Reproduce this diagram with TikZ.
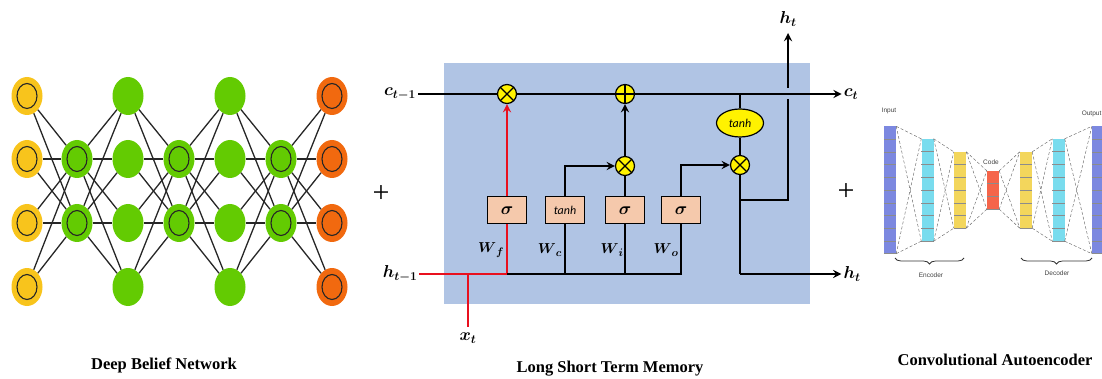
\documentclass[tikz,border=0pt]{standalone}
\usepackage{amsmath}
\usepackage{fontspec}
\setmainfont{Liberation Serif}
\newfontfamily\tanhfont{Carlito}
\newfontfamily\aefont{Liberation Sans}
\usetikzlibrary{arrows,positioning,calc,shapes.geometric,decorations.pathreplacing}
\definecolor{dbnyellow}{HTML}{F8C41C}
\definecolor{dbngreen}{HTML}{63CB02}
\definecolor{dbnorange}{HTML}{F1690F}
\definecolor{lstmblue}{HTML}{B0C4E4}
\definecolor{lstmbox}{HTML}{F5C9AC}
\definecolor{lstmred}{HTML}{E9101E}
\definecolor{aeblue}{HTML}{7C88E0}
\definecolor{aecyan}{HTML}{79DCEE}
\definecolor{aeyellow}{HTML}{F3D65C}
\definecolor{aered}{HTML}{F5654A}
\tikzset{
    vertex/.style={ellipse,minimum width=31pt,minimum height=38pt,inner sep=0pt},
    ringed/.style={path picture={\draw[line width=1.1pt,black!85] (path picture bounding box.center) ellipse (10pt and 12.5pt);}},
    link/.style={-,line width=1.3pt,black!85},
    pre/.style={->,line width=2.6pt,>=stealth},
    bi/.style={-,line width=2.6pt},
    mult/.style={circle,draw,fill=yellow,minimum size=19pt,inner sep=0pt,line width=1.2pt,
        path picture={\draw[line width=1.2pt] (path picture bounding box.north west) -- (path picture bounding box.south east) (path picture bounding box.north east) -- (path picture bounding box.south west);}},
    add/.style={circle,draw,fill=yellow,minimum size=19pt,inner sep=0pt,line width=1.2pt,
        path picture={\draw[line width=1.2pt] (path picture bounding box.north) -- (path picture bounding box.south) (path picture bounding box.east) -- (path picture bounding box.west);}},
    gate/.style={rectangle,draw,fill=lstmbox,minimum width=39pt,minimum height=27pt,inner sep=0pt,line width=1pt,font=\fontsize{18}{20}\selectfont},
    sym/.style={font=\fontsize{18}{20}\selectfont,inner sep=2pt},
    wsym/.style={font=\fontsize{15}{18}\selectfont,inner sep=0pt},
    title/.style={font=\fontsize{16.5}{19}\selectfont\bfseries},
    plus/.style={font=\fontsize{30}{32}\selectfont,inner sep=0pt},
    bar/.style={rectangle,minimum width=12pt,inner sep=0pt},
    aelink/.style={-,line width=.45pt,black!60,densely dashed},
    aetext/.style={font=\fontsize{6.5}{8}\selectfont\aefont,black!75,inner sep=0pt}
}
\newcommand{\lstmsym}[2]{$\boldsymbol{#1}_{\boldsymbol{#2}}$}
\begin{document}
\begin{tikzpicture}[x=1pt,y=-1pt]
    \useasboundingbox (0,0) rectangle (1102,379);

    % deep belief network
    \foreach \r/\y in {1/96,2/159,3/223,4/287} {
        \node[vertex,ringed,fill=dbnyellow] (dbn 1-\r) at (27,\y)  {};
        \node[vertex,fill=dbngreen]         (dbn 3-\r) at (128,\y) {};
        \node[vertex,fill=dbngreen]         (dbn 5-\r) at (230,\y) {};
        \node[vertex,ringed,fill=dbnorange] (dbn 7-\r) at (332,\y) {};
    }
    \foreach \c/\x in {2/77,4/179,6/281} {
        \node[vertex,ringed,fill=dbngreen] (dbn \c-2) at (\x,159) {};
        \node[vertex,ringed,fill=dbngreen] (dbn \c-3) at (\x,223) {};
    }
    \foreach \a/\b in {2/1,2/3,4/3,4/5,6/5,6/7}
        \foreach \s in {2,3}
            \foreach \r in {1,2,3,4}
                \draw[link] (dbn \a-\s) -- (dbn \b-\r);

    \node[title] (dbn title) at (164,365) {Deep Belief Network};
    \node[plus] (plus a) at (381,194) {+};
    \node[plus] (plus b) at (846,192) {+};

    % long short term memory
    \fill[lstmblue] (444,63) rectangle (810,304);

    \node[gate] (sigma f) at (507,210.5) {$\boldsymbol{\sigma}$};
    \node[gate] (tanh c) [on grid,right=58pt of sigma f] {\fontsize{12}{14}\selectfont\tanhfont\itshape tanh};
    \node[gate] (sigma i) [on grid,right=60pt of tanh c] {$\boldsymbol{\sigma}$};
    \node[gate] (sigma o) [on grid,right=56pt of sigma i] {$\boldsymbol{\sigma}$};

    \node[mult] (mult f) at (507,94)  {};
    \node[add]  (add i)  at (625,94)  {};
    \node[mult] (mult i) at (625,166) {};
    \node[mult] (mult o) at (740,165) {};
    \node[ellipse,draw,fill=yellow,minimum width=47pt,minimum height=28pt,inner sep=0pt,line width=1.2pt,
        font=\fontsize{12}{14}\selectfont\tanhfont\itshape] (tanh o) at (740,123) {tanh};

    \node[sym] (c prev) at (400,94)  {\lstmsym{c}{t-1}};
    \node[sym] (c next) at (851,94)  {\lstmsym{c}{t}};
    \node[sym] (h prev) at (400,274) {\lstmsym{h}{t-1}};
    \node[sym] (h next) at (852,274) {\lstmsym{h}{t}};
    \node[sym] (h top)  at (788,19)  {\lstmsym{h}{t}};
    \node[sym] (x t)    at (468,338) {\lstmsym{x}{t}};
    \node[wsym] (w f) at (491,250) {\lstmsym{W}{f}};
    \node[wsym] (w c) at (550,250) {\lstmsym{W}{c}};
    \node[wsym] (w i) at (612,250) {\lstmsym{W}{i}};
    \node[wsym] (w o) at (666,250) {\lstmsym{W}{o}};

    \coordinate (h f) at (507,274);
    \coordinate (h x) at (468,274);
    \coordinate (h c) at (565,274);
    \coordinate (h i) at (625,274);
    \coordinate (h o) at (681,274);
    \coordinate (h m) at (740,274);
    \coordinate (c o) at (740,94);
    \coordinate (m o) at (740,200);
    \coordinate (u a) at (788,200);
    \coordinate (u b) at (788,99);
    \coordinate (u c) at (788,88);
    \coordinate (u d) at (788,33);

    \draw[bi] (c prev) -- (mult f);
    \draw[bi] (mult f) -- (add i);
    \draw[pre] (add i) -- (c next);
    \draw[bi,lstmred] (h prev) -- (h f) -- (sigma f);
    \draw[bi,lstmred,shorten >=4pt] (h x) -- (x t);
    \draw[pre,lstmred] (sigma f) -- (mult f);
    \draw[bi] (h f) -- (h o) -- (sigma o);
    \draw[bi] (h c) -- (tanh c);
    \draw[bi] (h i) -- (sigma i);
    \draw[bi] (sigma i) -- (mult i);
    \draw[pre] (mult i) -- (add i);
    \draw[pre] (tanh c) |- (mult i);
    \draw[pre] (sigma o) |- (mult o);
    \draw[bi] (c o) -- (tanh o);
    \draw[bi] (tanh o) -- (mult o);
    \draw[bi] (mult o) -- (h m);
    \draw[pre] (h m) -- (h next);
    \draw[bi] (m o) -- (u a) -- (u b);
    \draw[pre] (u c) -- (u d);

    \node[title] (lstm title) at (610,369) {Long Short Term Memory};

    % convolutional autoencoder
    \foreach \name/\x/\h/\n/\col in {a/890/127/10/aeblue,b/927.5/102/8/aecyan,c/960/76/6/aeyellow,d/993/38/3/aered,
            e/1026/76/6/aeyellow,f/1058.5/102/8/aecyan,g/1098/127/10/aeblue} {
        \node[bar,fill=\col,minimum height=\h pt] (bar \name) at (\x,190) {};
        \foreach \k in {1,...,\n}
            \draw[line width=.4pt,black!45] ($(bar \name.north west)!{\k/\n}!(bar \name.south west)$) -- ($(bar \name.north east)!{\k/\n}!(bar \name.south east)$);
    }
    \foreach \p/\q in {a/b,b/c,c/d,d/e,e/f,f/g} {
        \draw[aelink] (bar \p.north east) -- (bar \q.north west);
        \draw[aelink] (bar \p.north east) -- (bar \q.south west);
        \draw[aelink] (bar \p.south east) -- (bar \q.north west);
        \draw[aelink] (bar \p.south east) -- (bar \q.south west);
    }
    \coordinate (enc a) at (895,258);
    \coordinate (enc b) at (964,258);
    \coordinate (dec a) at (1021,258);
    \coordinate (dec b) at (1092,258);
    \draw[decorate,decoration={brace,mirror,amplitude=6pt},line width=.8pt,black!80] (enc a) -- (enc b);
    \draw[decorate,decoration={brace,mirror,amplitude=6pt},line width=.8pt,black!80] (dec a) -- (dec b);

    \node[aetext] (ae input)  at (889,111)  {Input};
    \node[aetext,anchor=east] (ae output) at (1101.5,114) {Output};
    \node[aetext] (ae code)   at (991,162)  {Code};
    \node[aetext] (ae enc)    at (931,275)  {Encoder};
    \node[aetext] (ae dec)    at (1057,273) {Decoder};

    \node[title] (ae title) at (995,360) {Convolutional Autoencoder};

\end{tikzpicture}
\end{document}
